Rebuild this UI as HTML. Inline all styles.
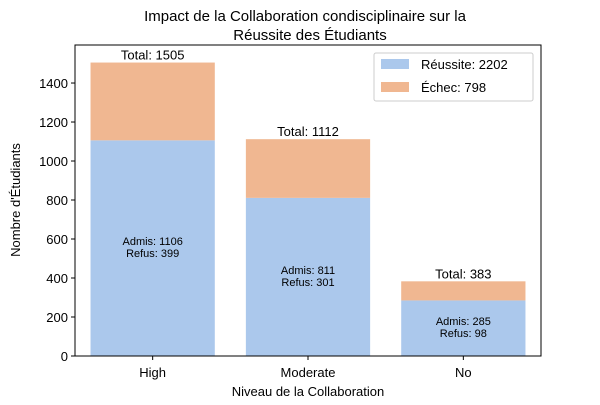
<!DOCTYPE html>
<html><head><meta charset="utf-8"><style>
body{margin:0;background:#fff;font-family:"Liberation Sans","DejaVu Sans",sans-serif}
svg text{font-family:"Liberation Sans","DejaVu Sans",sans-serif}
</style></head><body>
<svg id="chart" width="600" height="400">
<text x="305" y="21" font-size="15" text-anchor="middle">Impact de la Collaboration condisciplinaire sur la</text>
<text x="310" y="40" font-size="15" text-anchor="middle">Réussite des Étudiants</text>
<g id="bars"></g>
<g id="yticks"></g>
<g id="xticks"></g>
<rect x="75" y="45" width="466" height="311" fill="none" stroke="#000" stroke-width="1"/>
<text x="20" y="200" font-size="13" text-anchor="middle" transform="rotate(-90 20 200)">Nombre d'Étudiants</text>
<text x="308" y="396" font-size="13" text-anchor="middle">Niveau de la Collaboration</text>
<g>
<rect x="374" y="53" width="159" height="48" fill="#fff" stroke="#ccc" rx="2"/>
<rect x="381" y="59" width="28" height="10" fill="#abc8ec"/>
<text x="421" y="69" font-size="13">Réussite: 2202</text>
<rect x="381" y="82" width="28" height="10" fill="#f0b791"/>
<text x="421" y="92" font-size="13">Échec: 798</text>
</g>
</svg>
<script>
const categories=["High","Moderate","No"];
const admis=[1106,811,285];
const refus=[399,301,98];
const yTicks=[0,200,400,600,800,1000,1200,1400];
const NS="http://www.w3.org/2000/svg";
const L=75,R=541,T=45,B=356,ymax=1595;
const y=v=>B-v/ymax*(B-T);
const step=(R-L)/categories.length;
const xc=i=>L+step*(i+0.5);
const bw=step*0.8;
function mk(tag,attrs,parent,txt){const e=document.createElementNS(NS,tag);for(const k in attrs)e.setAttribute(k,attrs[k]);if(txt!==undefined)e.textContent=txt;parent.appendChild(e);return e;}
const gb=document.getElementById('bars');
categories.forEach((c,i)=>{
 const a=admis[i],r=refus[i],t=a+r;
 const b1=mk('rect',{x:xc(i)-bw/2,y:y(a),width:bw,height:B-y(a),fill:'#abc8ec'},gb);
 
 
 const b2=mk('rect',{x:xc(i)-bw/2,y:y(t),width:bw,height:y(a)-y(t),fill:'#f0b791'},gb);
 
 
 const tl=mk('text',{x:xc(i),y:y(t)-3,'font-size':13,'text-anchor':'middle'},gb,'Total: '+t);
 
 
 const my=y(a/2);
 const l1=mk('text',{x:xc(i),y:my-3,'font-size':11,'text-anchor':'middle'},gb,'Admis: '+a);
 
 
 const l2=mk('text',{x:xc(i),y:my+9,'font-size':11,'text-anchor':'middle'},gb,'Refus: '+r);
 
 
 const xg=document.getElementById('xticks');
 mk('line',{x1:xc(i),x2:xc(i),y1:B,y2:B+4,stroke:'#000'},xg);
 const xl=mk('text',{x:xc(i),y:B+21,'font-size':13,'text-anchor':'middle'},xg,c);
 
 
});
const yg=document.getElementById('yticks');
yTicks.forEach(v=>{
 mk('line',{x1:L-4,x2:L,y1:y(v),y2:y(v),stroke:'#000'},yg);
 const t=mk('text',{x:L-7,y:y(v)+5,'font-size':13,'text-anchor':'end'},yg,v);
 
 
});
</script>
</body></html>
